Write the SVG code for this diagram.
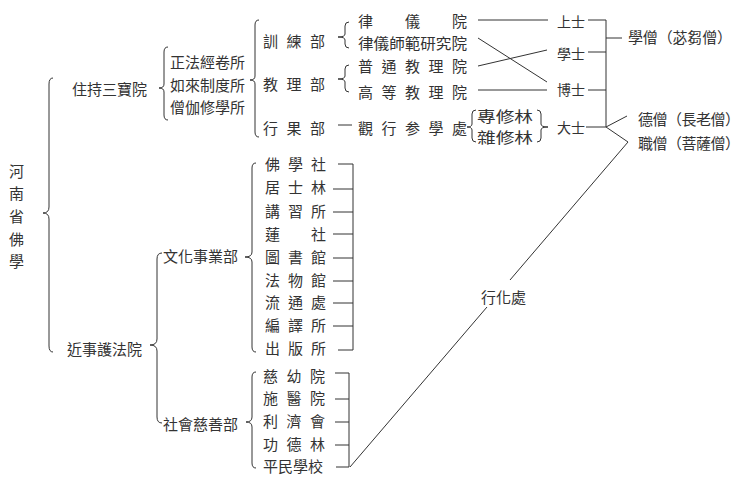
<svg xmlns="http://www.w3.org/2000/svg" width="750" height="484" viewBox="0 0 750 484">
<style>
text{font-family:"Noto Sans CJK TC","Noto Sans CJK SC",sans-serif;font-size:15px;fill:#333;dominant-baseline:central}
.s{font-size:14px}
path,line{stroke:#333;stroke-width:1;fill:none}
</style>
<rect width="750" height="484" fill="#fff"/>
<g id="root"><text x="9" y="170">河</text><text x="9" y="192">南</text><text x="9" y="215">省</text><text x="9" y="238">佛</text><text x="9" y="260">學</text></g>
<g id="zhuchi"><text x="72" y="88">住持三寶院</text></g>
<g id="suo"><text x="170" y="61">正法經卷所</text><text x="170" y="84">如來制度所</text><text x="170" y="106">僧伽修學所</text></g>
<g id="bu"><text x="263 286.5 310" y="40">訓練部</text><text x="263 286.5 310" y="83">教理部</text><text x="263 286.5 310" y="127">行果部</text></g>
<g id="yuan"><text x="358 405 452" y="20">律儀院</text><text x="358" y="42" textLength="109" lengthAdjust="spacingAndGlyphs">律儀師範研究院</text><text x="358 381.5 405 428.5 452" y="65">普通教理院</text><text x="358 381.5 405 428.5 452" y="91">高等教理院</text><text x="358 381.5 405 428.5 452" y="127">觀行参學處</text></g>
<g id="lin"><text x="477" y="115" textLength="56" lengthAdjust="spacingAndGlyphs">專修林</text><text x="477" y="136" textLength="56" lengthAdjust="spacingAndGlyphs">雜修林</text></g>
<g id="shi"><text class="s" x="557" y="21">上士</text><text class="s" x="557" y="53">學士</text><text class="s" x="557" y="89">博士</text><text class="s" x="557" y="127">大士</text></g>
<g id="seng"><text x="628" y="36" textLength="104">學僧（苾芻僧）</text><text x="638" y="118" textLength="102">德僧（長老僧）</text><text x="638" y="142" textLength="102">職僧（菩薩僧）</text></g>
<g id="jinshi"><text x="67" y="348">近事護法院</text></g>
<g id="wenhua"><text x="163" y="255">文化事業部</text></g>
<g id="shehui"><text x="163" y="423">社會慈善部</text></g>
<g id="wenhua-items"><text x="265 288 311" y="163">佛學社</text><text x="265 288 311" y="186">居士林</text><text x="265 288 311" y="210">講習所</text><text x="265 311" y="233">蓮社</text><text x="265 288 311" y="256">圖書館</text><text x="265 288 311" y="279">法物館</text><text x="265 288 311" y="301">流通處</text><text x="265 288 311" y="324">編譯所</text><text x="265 288 311" y="347">出版所</text></g>
<g id="shehui-items"><text x="263 286.5 310" y="375">慈幼院</text><text x="263 286.5 310" y="397">施醫院</text><text x="263 286.5 310" y="420">利濟會</text><text x="263 286.5 310" y="443">功德林</text><text x="263" y="465">平民學校</text></g>
<g id="xinghua"><text x="481" y="296">行化處</text></g>
<g id="connectors">
<path d="M53,78 Q49,78 49,84 L49,207 Q49,213 43,213 Q49,213 49,219 L49,346 Q49,352 53,352"/>
<path d="M168,47 Q164,47 164,52 L164,84 Q164,88 159,88 Q164,88 164,92 L164,115 Q164,120 168,120"/>
<path d="M259,20 Q255,20 255,25 L255,76 Q255,80 250,80 Q255,80 255,84 L255,132 Q255,137 259,137"/>
<path d="M349,22 Q345,22 345,26 L345,34 Q345,37 338,37 Q345,37 345,40 L345,44 Q345,48 349,48"/>
<path d="M349,65 Q345,65 345,69 L345,76 Q345,79 338,79 Q345,79 345,82 L345,88 Q345,92 349,92"/>
<path d="M476,110 Q472,110 472,114 L472,124 Q472,127 467,127 Q472,127 472,130 L472,138 Q472,142 476,142"/>
<path d="M537,110 Q541,110 541,114 L541,124 Q541,127 548,127 Q541,127 541,130 L541,138 Q541,142 537,142"/>
<path d="M256,163 Q252,163 252,168 L252,252 Q252,257 245,257 Q252,257 252,262 L252,347 Q252,352 256,352"/>
<path d="M162,253 Q157,253 157,259 L157,339 Q157,345 150,345 Q157,345 157,351 L157,417 Q157,423 162,423"/>
<path d="M256,372 Q252,372 252,377 L252,417 Q252,422 246,422 Q252,422 252,427 L252,463 Q252,468 256,468"/>
<line x1="478" y1="20" x2="548" y2="20"/>
<line x1="478" y1="38" x2="547" y2="82"/>
<line x1="478" y1="66" x2="547" y2="50"/>
<line x1="478" y1="90" x2="547" y2="90"/>
<line x1="338" y1="125" x2="352" y2="125"/>
<path d="M588,20 H606 V127 M588,52 H606 M588,90 H606 M586,127 H606"/>
<line x1="606" y1="38" x2="622" y2="38"/>
<path d="M627,116 L606,127 L628,142 L510,280 M487,307 L350,467"/>
<path d="M338,164 H353 V350 H338 M333,189 H353 M333,212 H353 M333,234 H353 M333,258 H353 M333,281 H353 M333,303 H353 M333,326 H353"/>
<path d="M335,373 H349 V467 H336 M335,399 H349 M335,422 H349 M335,445 H349"/>
</g>
</svg>
